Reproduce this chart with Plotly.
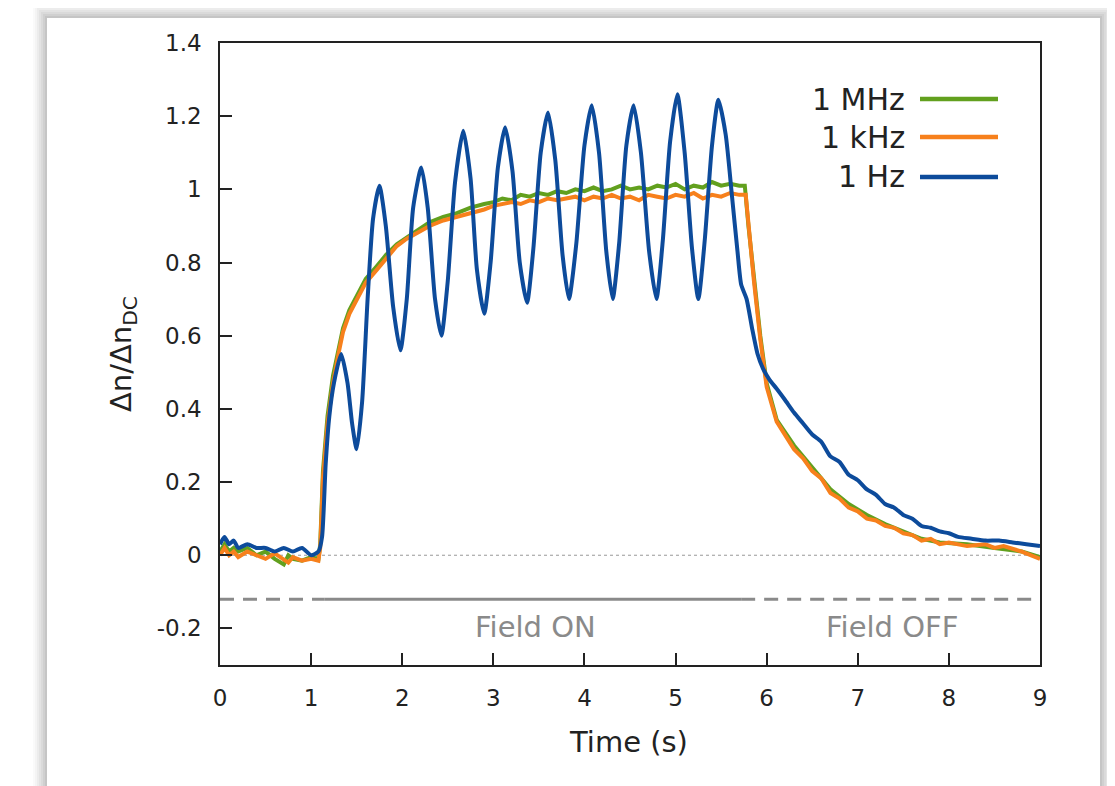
import plotly.graph_objects as go

# ---------------- data ----------------
t_1mhz = [0.0, 0.05, 0.1, 0.15, 0.2, 0.3, 0.4, 0.5, 0.6, 0.7, 0.75, 0.8, 0.9, 1.0, 1.08, 1.1, 1.13, 1.18, 1.24,
          1.3, 1.35, 1.42, 1.5, 1.6, 1.72, 1.82, 1.94, 2.05, 2.15, 2.3, 2.45, 2.6, 2.75, 2.9,
          3.0, 3.1, 3.2, 3.3, 3.4, 3.5, 3.6, 3.7, 3.8, 3.9, 4.0, 4.1, 4.2, 4.3, 4.4, 4.5, 4.6, 4.7,
          4.8, 4.9, 5.0, 5.1, 5.2, 5.3, 5.4, 5.5, 5.6, 5.7, 5.76, 5.8,
          5.86, 5.93, 6.0, 6.11, 6.3, 6.5, 6.7, 6.9, 7.1, 7.3, 7.5, 7.7, 7.9, 8.2, 8.5, 8.8, 9.0]
v_1mhz = [0.01, 0.03, 0.01, 0.02, 0.01, 0.02, 0.0, 0.01, -0.01, -0.025, 0.0, -0.01, -0.015, -0.005, -0.01, 0.03, 0.23, 0.38, 0.49,
          0.56, 0.62, 0.67, 0.71, 0.755, 0.79, 0.82, 0.85, 0.87, 0.885, 0.91, 0.925, 0.935, 0.95, 0.96,
          0.965, 0.975, 0.97, 0.985, 0.98, 0.99, 0.985, 0.995, 0.99, 1.0, 0.995, 1.005, 0.995, 1.0, 1.01, 1.0, 1.005, 1.0,
          1.01, 1.005, 1.015, 1.0, 1.01, 1.005, 1.02, 1.01, 1.015, 1.01, 1.01, 0.9,
          0.76, 0.6, 0.47, 0.37, 0.3, 0.24, 0.18, 0.14, 0.11, 0.085, 0.065, 0.045, 0.035, 0.03, 0.02, 0.01, -0.005]

t_1khz = [0.0, 0.05, 0.1, 0.15, 0.2, 0.3, 0.4, 0.5, 0.6, 0.7, 0.75, 0.8, 0.9, 1.0, 1.08, 1.1, 1.13, 1.18, 1.24,
          1.3, 1.35, 1.42, 1.5, 1.6, 1.72, 1.82, 1.94, 2.05, 2.15, 2.3, 2.45, 2.6, 2.75, 2.9,
          3.0, 3.1, 3.2, 3.3, 3.4, 3.5, 3.6, 3.7, 3.8, 3.9, 4.0, 4.1, 4.2, 4.3, 4.4, 4.5, 4.6, 4.7,
          4.8, 4.9, 5.0, 5.1, 5.2, 5.3, 5.4, 5.5, 5.6, 5.7, 5.77, 5.8,
          5.86, 5.93, 6.0, 6.11, 6.2, 6.3, 6.4, 6.5, 6.6, 6.7, 6.8, 6.9, 7.0, 7.1, 7.2, 7.3, 7.4, 7.5,
          7.6, 7.7, 7.8, 7.9, 8.0, 8.2, 8.4, 8.5, 8.6, 8.8, 9.0]
v_1khz = [0.0, 0.02, 0.0, 0.01, -0.005, 0.01, 0.0, -0.01, 0.005, -0.01, -0.02, -0.005, -0.015, -0.01, -0.015, 0.02, 0.21, 0.36, 0.47,
          0.55, 0.61, 0.66, 0.70, 0.745, 0.78, 0.81, 0.845, 0.865, 0.88, 0.90, 0.915, 0.925, 0.935, 0.945,
          0.955, 0.96, 0.965, 0.96, 0.97, 0.965, 0.975, 0.97, 0.975, 0.98, 0.97, 0.98, 0.975, 0.985, 0.975, 0.98, 0.97, 0.985,
          0.98, 0.975, 0.985, 0.98, 0.99, 0.975, 0.985, 0.98, 0.99, 0.985, 0.985, 0.9,
          0.75, 0.59, 0.46, 0.365, 0.33, 0.29, 0.265, 0.23, 0.21, 0.17, 0.155, 0.13, 0.12, 0.10, 0.095, 0.08, 0.075, 0.06,
          0.055, 0.04, 0.045, 0.03, 0.035, 0.025, 0.03, 0.02, 0.025, 0.01, -0.01]

t_1hz = [0.0, 0.05, 0.1, 0.15, 0.2, 0.3, 0.4, 0.5, 0.6, 0.7, 0.8, 0.9, 1.0, 1.08, 1.12, 1.16, 1.2, 1.25,
         1.33, 1.4, 1.45, 1.5, 1.56, 1.62, 1.68, 1.75, 1.82, 1.9, 1.98, 2.05, 2.12, 2.21, 2.28, 2.36,
         2.43, 2.5, 2.58, 2.67, 2.75, 2.82, 2.9, 2.97, 3.05, 3.13, 3.21, 3.29, 3.37, 3.44, 3.52, 3.6,
         3.68, 3.76, 3.83, 3.91, 4.0, 4.08, 4.16, 4.24, 4.31, 4.38, 4.46, 4.54, 4.62, 4.71, 4.79, 4.86,
         4.94, 5.02, 5.1, 5.18, 5.25, 5.32, 5.4, 5.47, 5.55, 5.62, 5.68, 5.72, 5.78, 5.84, 5.9, 5.96,
         6.03, 6.11, 6.2, 6.3, 6.4, 6.5, 6.6, 6.7, 6.8, 6.9, 7.0, 7.1, 7.2, 7.3, 7.4, 7.5, 7.6, 7.7,
         7.8, 7.9, 8.0, 8.1, 8.25, 8.4, 8.55, 8.7, 8.85, 9.0]
v_1hz = [0.03, 0.05, 0.03, 0.04, 0.02, 0.03, 0.02, 0.02, 0.01, 0.02, 0.01, 0.02, 0.0, 0.01, 0.05, 0.25, 0.38, 0.47,
         0.55, 0.47, 0.36, 0.29, 0.42, 0.70, 0.92, 1.01, 0.90, 0.68, 0.56, 0.70, 0.95, 1.06, 0.95, 0.70,
         0.60, 0.75, 1.02, 1.16, 1.03, 0.78, 0.66, 0.80, 1.06, 1.17, 1.05, 0.80, 0.69, 0.84, 1.10, 1.21,
         1.08, 0.82, 0.70, 0.85, 1.12, 1.23, 1.10, 0.83, 0.70, 0.85, 1.12, 1.23, 1.10, 0.83, 0.70, 0.86,
         1.13, 1.26, 1.10, 0.84, 0.70, 0.86, 1.12, 1.245, 1.15, 0.98, 0.83, 0.74, 0.70, 0.62, 0.55, 0.51,
         0.48, 0.455, 0.425, 0.39, 0.36, 0.33, 0.31, 0.27, 0.255, 0.22, 0.205, 0.18, 0.165, 0.14, 0.13, 0.11, 0.10, 0.08,
         0.075, 0.065, 0.06, 0.05, 0.045, 0.04, 0.04, 0.035, 0.03, 0.025]

series_names = ["1 MHz", "1 kHz", "1 Hz"]
series_colors = ["#62a01e", "#f7801c", "#0d4b9b"]

x_ticks = [0, 1, 2, 3, 4, 5, 6, 7, 8, 9]
y_ticks = [-0.2, 0, 0.2, 0.4, 0.6, 0.8, 1.0, 1.2, 1.4]
y_ticktext = ["-0.2", "0", "0.2", "0.4", "0.6", "0.8", "1", "1.2", "1.4"]

field_level = -0.12
field_on_start = 1.15
field_on_end = 5.72
field_on_label_x = 3.46
field_off_label_x = 7.38
field_label_y = -0.195

# ---------------- layout geometry (target page pixels) ----------------
OFF = 8                      # page body margin of the html page
W, H = 1115, 786
PL, PT, PWd, PHt = 220, 43, 820, 622   # plot area on the page
L, T = PL - OFF, PT - OFF
R = W - L - PWd
B = H - T - PHt


def px(xp):
    return (xp - PL) / PWd


def py(yp):
    return (PT + PHt - yp) / PHt


FONT = "DejaVu Sans"
GRAY = "#8a8a8a"
TXT = "#222222"

fig = go.Figure()
for tt, vv, name, col, shp in zip([t_1mhz, t_1khz, t_1hz], [v_1mhz, v_1khz, v_1hz], series_names,
                                  series_colors, ["linear", "linear", "spline"]):
    fig.add_trace(go.Scatter(x=tt, y=vv, mode="lines", name=name,
                             line=dict(color=col, width=4, shape=shp, smoothing=0.6),
                             showlegend=False))

shapes = []
# card shadow
card = (47, 18, 1100, 830)
for i, a in enumerate([0.02, 0.025, 0.03, 0.035, 0.04, 0.045, 0.05]):
    d = 14 - 2 * i
    shapes.append(dict(type="rect", xref="paper", yref="paper", layer="below",
                       x0=px(card[0] - d), x1=px(card[2] + d), y0=py(card[3] + d), y1=py(card[1] - d),
                       fillcolor=f"rgba(0,0,0,{a})", line=dict(width=0)))
shapes.append(dict(type="rect", xref="paper", yref="paper", layer="below",
                   x0=px(card[0]), x1=px(card[2]), y0=py(card[3]), y1=py(card[1]),
                   fillcolor="white", line=dict(width=0)))
# zero dotted line
shapes.append(dict(type="line", xref="x", yref="y", layer="below", x0=0, x1=9, y0=0, y1=0,
                   line=dict(color="#999999", width=1, dash="dot")))
# field indicator
shapes.append(dict(type="line", xref="x", yref="y", x0=0, x1=field_on_start, y0=field_level, y1=field_level,
                   line=dict(color=GRAY, width=3, dash="14px,9px")))
shapes.append(dict(type="line", xref="x", yref="y", x0=field_on_start, x1=field_on_end, y0=field_level, y1=field_level,
                   line=dict(color=GRAY, width=3)))
shapes.append(dict(type="line", xref="x", yref="y", x0=field_on_end, x1=9, y0=field_level, y1=field_level,
                   line=dict(color=GRAY, width=3, dash="14px,9px")))

annotations = [
    dict(x=field_on_label_x, y=field_label_y, xref="x", yref="y", text="Field ON", showarrow=False,
         font=dict(family=FONT, size=29, color=GRAY)),
    dict(x=field_off_label_x, y=field_label_y, xref="x", yref="y", text="Field OFF", showarrow=False,
         font=dict(family=FONT, size=29, color=GRAY)),
    dict(x=px(628), y=py(742), xref="paper", yref="paper", text="Time (s)", showarrow=False,
         font=dict(family=FONT, size=29, color=TXT), yanchor="middle"),
    dict(x=px(123), y=0.5, xref="paper", yref="paper", text="Δn/Δn<sub>DC</sub>", showarrow=False,
         textangle=-90, font=dict(family=FONT, size=29, color=TXT), xanchor="center", yanchor="middle"),
]

# manual legend: text followed by line sample
for name, col, ypx in zip(series_names, series_colors, [99, 137, 177]):
    annotations.append(dict(x=px(907), y=py(ypx), xref="paper", yref="paper", text=name, showarrow=False,
                            xanchor="right", yanchor="middle", font=dict(family=FONT, size=30, color=TXT)))
    shapes.append(dict(type="line", xref="paper", yref="paper", x0=px(920), x1=px(998), y0=py(ypx), y1=py(ypx),
                       line=dict(color=col, width=4.5)))

fig.update_layout(
    width=W, height=H,
    margin=dict(l=L, r=R, t=T, b=B, pad=0),
    paper_bgcolor="white", plot_bgcolor="white",
    shapes=shapes, annotations=annotations,
    font=dict(family=FONT, color=TXT),
    xaxis=dict(range=[0, 9], tickvals=x_ticks, ticks="inside", ticklen=12, tickwidth=1.5, tickcolor=TXT,
               showline=True, linecolor=TXT, linewidth=1.5, mirror=True, showgrid=False, zeroline=False,
               tickfont=dict(family=FONT, size=23, color=TXT), ticklabelstandoff=12),
    yaxis=dict(range=[-0.3, 1.4], tickvals=y_ticks, ticktext=y_ticktext, ticks="inside", ticklen=12,
               tickwidth=1.5, tickcolor=TXT, showline=True, linecolor=TXT, linewidth=1.5, mirror=True,
               showgrid=False, zeroline=False, tickfont=dict(family=FONT, size=23, color=TXT),
               ticklabelstandoff=12),
)

fig.write_html("out.html")
